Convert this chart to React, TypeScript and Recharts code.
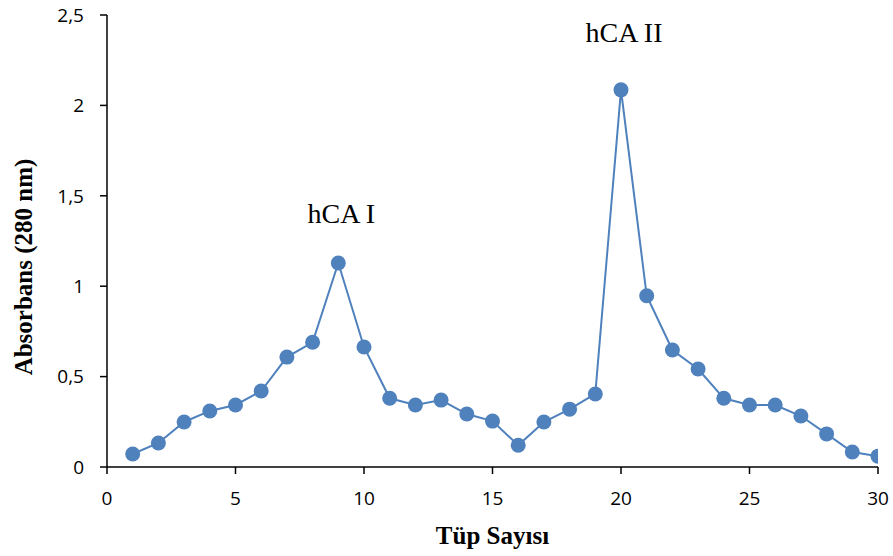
import { CartesianGrid, LabelList, Label, Line, LineChart, XAxis, YAxis } from 'recharts'

// Tube numbers and absorbance at 280 nm for each fraction
const tubes = [
  1, 2, 3, 4, 5, 6, 7, 8, 9, 10, 11, 12, 13, 14, 15, 16, 17, 18, 19, 20, 21, 22,
  23, 24, 25, 26, 27, 28, 29, 30,
]
const absorbance = [
  0.072, 0.133, 0.249, 0.31, 0.343, 0.42, 0.608, 0.69, 1.128, 0.664, 0.38,
  0.343, 0.37, 0.293, 0.254, 0.12, 0.249, 0.32, 0.404, 2.086, 0.947, 0.647,
  0.542, 0.38, 0.343, 0.343, 0.282, 0.183, 0.083, 0.06,
]
const xTicks = [0, 5, 10, 15, 20, 25, 30]
const yTicks = [0, 0.5, 1, 1.5, 2, 2.5]

// peak names shown above the two maxima
const peakLabels: Record<number, string> = { 9: 'hCA I', 20: 'hCA II' }

const data = tubes.map((tube, i) => ({
  tube,
  value: absorbance[i],
  peak: peakLabels[tube] ?? '',
}))

const LINE_COLOR = '#4F81BD'
const tickStyle = { fontSize: 19, fill: '#000', fontFamily: '"Open Sans", sans-serif' }
const serif = '"Liberation Serif", "Times New Roman", serif'

function PeakLabel(props: any) {
  const { x, y, value, index } = props
  if (!value) return null
  const rise = data[index].tube === 20 ? 48 : 40
  return (
    <text
      x={x + 3}
      y={y - rise}
      textAnchor="middle"
      fontFamily={serif}
      fontSize={28}
      fill="#000"
    >
      {value}
    </text>
  )
}

export default function App() {
  return (
    <div style={{ position: 'absolute', left: 0, top: 0, background: '#fff' }}>
      <LineChart
        width={893}
        height={556}
        data={data}
        margin={{ top: 15, right: 15, bottom: 49, left: 0 }}
      >
        <CartesianGrid stroke="none" />
        <XAxis
          dataKey="tube"
          type="number"
          domain={[0, 30]}
          ticks={xTicks}
          tick={tickStyle}
          tickSize={7}
          tickMargin={18}
          stroke="#000"
          strokeWidth={1.5}
          height={40}
          allowDataOverflow
        >
          <Label
            content={({ viewBox }: any) => (
              <text
                x={viewBox.x + viewBox.width / 2}
                y={544}
                textAnchor="middle"
                fontFamily={serif}
                fontWeight="bold"
                fontSize={25}
                fill="#000"
              >
                Tüp Sayısı
              </text>
            )}
          />
        </XAxis>
        <YAxis
          type="number"
          domain={[0, 2.5]}
          ticks={yTicks}
          tick={tickStyle}
          tickSize={7}
          tickMargin={16}
          stroke="#000"
          strokeWidth={1.5}
          width={107}
          tickFormatter={(v: number) => String(v).replace('.', ',')}
        >
          <Label
            content={() => (
              <text
                x={32}
                y={267}
                transform="rotate(-90 32 267)"
                textAnchor="middle"
                fontFamily={serif}
                fontWeight="bold"
                fontSize={25}
                fill="#000"
              >
                Absorbans (280 nm)
              </text>
            )}
          />
        </YAxis>
        <Line
          dataKey="value"
          stroke={LINE_COLOR}
          strokeWidth={2}
          dot={{ r: 7.5, fill: LINE_COLOR, stroke: LINE_COLOR, strokeWidth: 0 }}
          isAnimationActive={false}
        >
          <LabelList dataKey="peak" content={PeakLabel} />
        </Line>
      </LineChart>
    </div>
  )
}
